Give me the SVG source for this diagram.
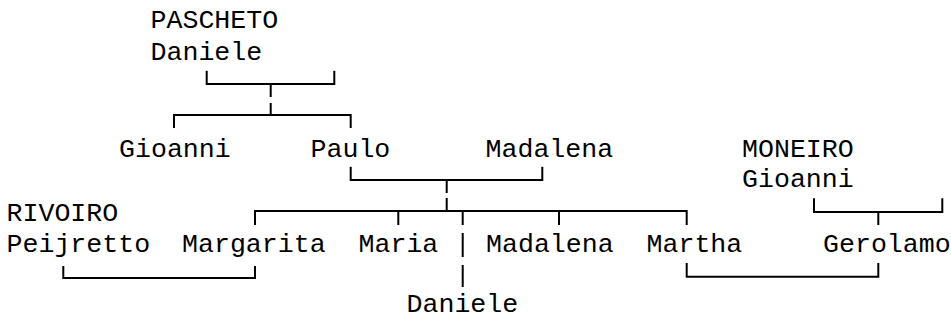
<svg xmlns="http://www.w3.org/2000/svg" width="951" height="322" viewBox="0 0 951 322">
<style>
text{font-family:"Liberation Mono","DejaVu Sans Mono",monospace;font-size:26.6px;fill:#000}
.c path{fill:none;stroke:#000;stroke-width:2}
</style>
<rect width="951" height="322" fill="#fff"/>
<g id="connectors" class="c">
<path d="M206.7,70.7V84H334.3V70.7"/>
<path d="M270.7,84V97M270.7,103V115"/>
<path d="M174,128V115H350.7V128"/>
<path d="M350.7,166.7V180H542.3V166.7"/>
<path d="M446.7,180V193M446.7,198V211"/>
<path d="M255,225V211H686.7V225M398.3,211V225M462.7,211V225M559,211V225"/>
<path d="M462.7,233V257M462.7,265V287"/>
<path d="M63.3,266V278H255V266"/>
<path d="M686.7,263V276.7H878.3V263"/>
<path d="M814,198.3V212H942.3V198.3M878.3,212V225"/>
</g>
<g id="pascheto-daniele"><text x="150.5" y="28">PASCHETO</text><text x="150.5" y="60">Daniele</text></g>
<g id="gioanni"><text x="119" y="157">Gioanni</text></g>
<g id="paulo"><text x="310.5" y="157">Paulo</text></g>
<g id="madalena-1"><text x="485.5" y="157">Madalena</text></g>
<g id="moneiro-gioanni"><text x="742" y="157">MONEIRO</text><text x="742" y="187">Gioanni</text></g>
<g id="rivoiro-peijretto"><text x="6.5" y="221">RIVOIRO</text><text x="6.5" y="252">Peijretto</text></g>
<g id="margarita"><text x="182" y="252">Margarita</text></g>
<g id="maria"><text x="358.5" y="252">Maria</text></g>
<g id="madalena-2"><text x="486" y="252">Madalena</text></g>
<g id="martha"><text x="646.5" y="252">Martha</text></g>
<g id="gerolamo"><text x="823" y="252">Gerolamo</text></g>
<g id="daniele"><text x="406.5" y="312">Daniele</text></g>
</svg>
